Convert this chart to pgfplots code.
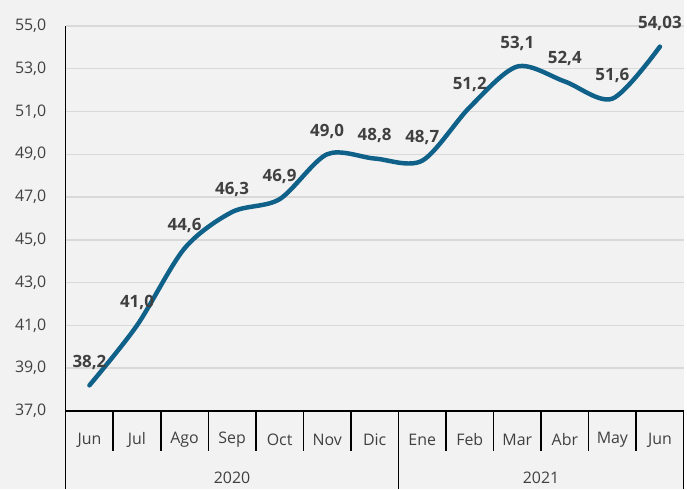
\documentclass[border=0pt]{standalone}
\usepackage{pgfplots}
\pgfplotsset{compat=1.18}
\usepackage{pgfplotstable}
\usepackage{fontspec}
\setmainfont{Open Sans}
\definecolor{bgc}{HTML}{F2F2F2}
\definecolor{linec}{HTML}{0F6189}
\definecolor{gridc}{HTML}{D9D9D9}
\definecolor{txt}{HTML}{404040}
\pgfplotstableread{
x y lab
0 38.2 38,2
1 41.0 41,0
2 44.6 44,6
3 46.3 46,3
4 46.9 46,9
5 49.0 49,0
6 48.8 48,8
7 48.7 48,7
8 51.2 51,2
9 53.1 53,1
10 52.4 52,4
11 51.6 51,6
12 54.03 54,03
}\datatable
\begin{document}
\begin{tikzpicture}
\fill[bgc] (-66pt,-78pt) rectangle (621pt,413pt);
\begin{axis}[
  at={(0,0)}, anchor=south west,
  scale only axis, width=621pt, height=387pt,
  xmin=-0.5, xmax=12.5, ymin=37, ymax=55,
  clip=false,
  axis x line*=bottom, axis y line*=left,
  axis line style={black, line width=1.5pt, -},
  ytick={37,39,...,55},
  ymajorgrids, grid style={gridc, line width=1.5pt},
  ytick style={draw=none},
  yticklabel style={font=\fontsize{16}{19}\selectfont, text=txt, xshift=24pt, /pgf/number format/.cd, fixed, fixed zerofill, precision=1, use comma, assume math mode=true},
  xtick={-0.5,0.5,...,12.5},
  xticklabels={},
  tick align=outside,
  x tick style={black, line width=1.5pt},
  major tick length=40pt,
  extra x ticks={0,1,...,12},
  extra x tick labels={Jun,Jul,Ago,Sep,Oct,Nov,Dic,Ene,Feb,Mar,Abr,May,Jun},
  extra x tick style={major tick length=0pt, xticklabel style={font=\fontsize{16}{19}\selectfont, text=txt, anchor=center, yshift=-29pt}},
  nodes near coords,
  point meta=explicit symbolic,
  nodes near coords style={font=\bfseries\fontsize{17}{20}\selectfont, text=txt, anchor=south, yshift=10pt},
]
\addplot[linec, line width=4.5pt, smooth, tension=0.5, line cap=round] table[x=x, y=y, meta=lab] {\datatable};
\coordinate (g0) at (axis cs:-0.5,37);
\coordinate (g1) at (axis cs:6.5,37);
\coordinate (g2) at (axis cs:12.5,37);
\coordinate (y0) at (axis cs:3,37);
\coordinate (y1) at (axis cs:9.5,37);
\end{axis}
\foreach \c in {g0,g1,g2} \draw[black, line width=1.5pt] (\c) -- ([yshift=-78pt]\c);
\node[font=\fontsize{16}{19}\selectfont, text=txt] at ([yshift=-67pt]y0) {2020};
\node[font=\fontsize{16}{19}\selectfont, text=txt] at ([yshift=-67pt]y1) {2021};
\end{tikzpicture}
\end{document}
